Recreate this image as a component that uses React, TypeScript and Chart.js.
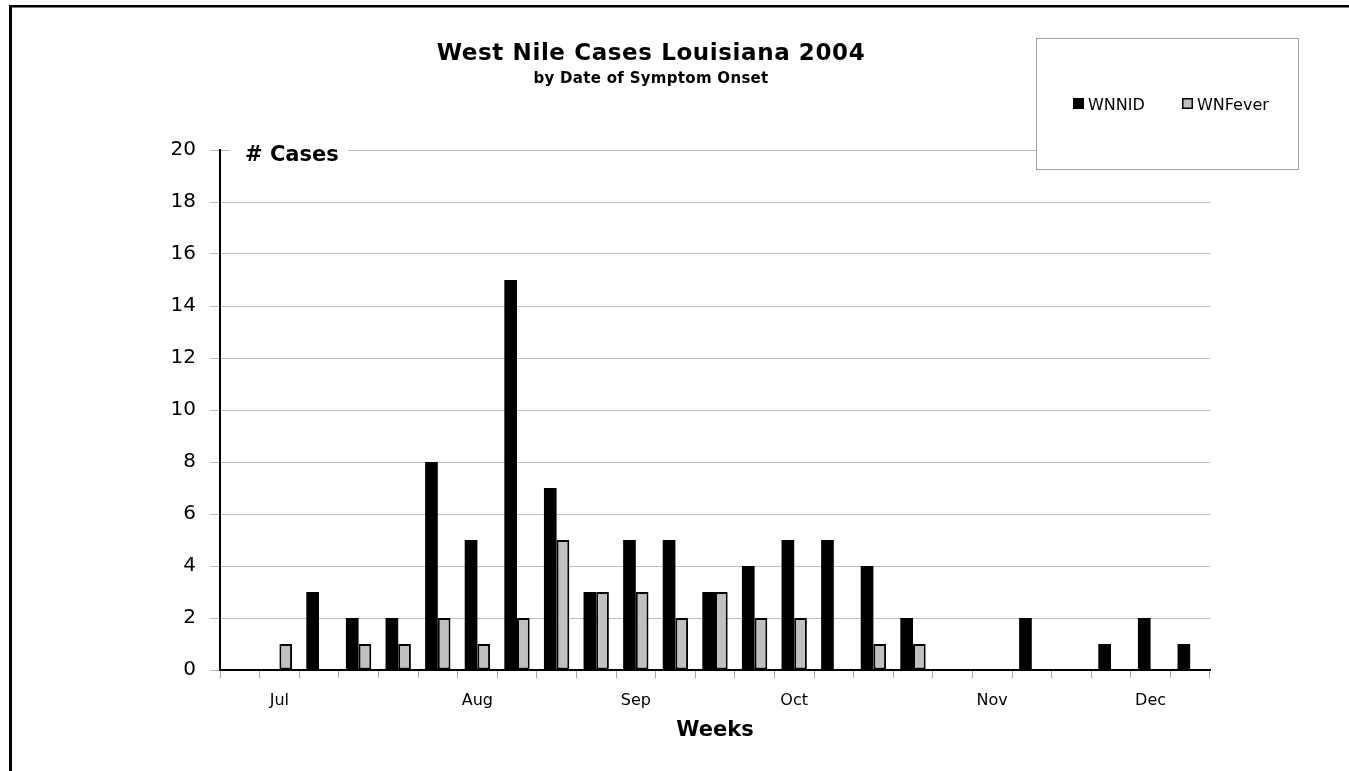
import React, { useEffect, useRef } from 'react';
import { Chart, registerables } from 'chart.js';

Chart.register(...registerables);

const weekLabels = ['', 'Jul', '', '', '', '', 'Aug', '', '', '', 'Sep', '', '', '', 'Oct', '', '', '', '', 'Nov', '', '', '', 'Dec', ''];
const wnnidCases = [0, 0, 3, 2, 2, 8, 5, 15, 7, 3, 5, 5, 3, 4, 5, 5, 4, 2, 0, 0, 2, 0, 1, 2, 1];
const wnfeverCases = [0, 1, 0, 1, 1, 2, 1, 2, 5, 3, 3, 2, 3, 2, 2, 0, 1, 1, 0, 0, 0, 0, 0, 0, 0];
const seriesNames = ['WNNID', 'WNFever'];
const titleText = 'West Nile Cases Louisiana 2004';
const subtitleText = 'by Date of Symptom Onset';
const yAxisLabel = '# Cases';
const xAxisLabel = 'Weeks';

const FONT = '"DejaVu Sans", "Liberation Sans", sans-serif';

const decorPlugin = {
  id: 'decor',
  afterDraw(chart: any) {
    const ctx = chart.ctx as any;
    const area = chart.chartArea;
    ctx.save();
    // outer frame (left + top edges)
    ctx.fillStyle = '#000';
    ctx.fillRect(9, 5, 3, 800);
    ctx.fillRect(9, 5, 1400, 2.5);

    // title
    ctx.fillStyle = '#000';
    ctx.textAlign = 'center';
    ctx.textBaseline = 'alphabetic';
    ctx.font = `bold 23px ${FONT}`;
    ctx.letterSpacing = '0.6px';
    ctx.fillText(titleText, 651, 60);
    ctx.font = `bold 15px ${FONT}`;
    ctx.letterSpacing = '0.3px';
    ctx.fillText(subtitleText, 651, 83);
    ctx.letterSpacing = '0px';

    // "# Cases" label with white backing
    ctx.font = `bold 21px ${FONT}`;
    const w = ctx.measureText(yAxisLabel).width;
    ctx.fillStyle = '#fff';
    ctx.fillRect(area.left + 10, area.top - 12, w + 24, 24);
    ctx.fillStyle = '#000';
    ctx.textAlign = 'left';
    ctx.fillText(yAxisLabel, area.left + 25, area.top + 11);

    // x axis title
    ctx.textAlign = 'center';
    ctx.font = `bold 21px ${FONT}`;
    ctx.fillText(xAxisLabel, (area.left + area.right) / 2, 736);

    // legend box
    const lx = 1036, ly = 38, lw = 262, lh = 131;
    ctx.fillStyle = '#fff';
    ctx.fillRect(lx, ly, lw, lh);
    ctx.strokeStyle = '#a0a0a0';
    ctx.lineWidth = 1;
    ctx.strokeRect(lx + 0.5, ly + 0.5, lw, lh);

    const items = chart.data.datasets;
    const xs = [1073, 1182];
    ctx.font = `16px ${FONT}`;
    ctx.textAlign = 'left';
    items.forEach((ds: any, i: number) => {
      const x = xs[i];
      ctx.fillStyle = ds.backgroundColor;
      ctx.fillRect(x, 98, 11, 11);
      ctx.strokeStyle = '#000';
      ctx.lineWidth = 1.5;
      ctx.strokeRect(x + 0.75, 98.75, 9.5, 9.5);
      ctx.fillStyle = '#000';
      ctx.fillText(ds.label, x + 15, 110);
    });
    ctx.restore();
  },
};

export default function App() {
  const ref = useRef<HTMLCanvasElement | null>(null);
  useEffect(() => {
    if (!ref.current) return;
    const chart = new Chart(ref.current, {
      type: 'bar',
      data: {
        labels: weekLabels,
        datasets: [
          {
            label: seriesNames[0],
            data: wnnidCases,
            backgroundColor: '#000000',
            borderColor: '#000000',
            borderWidth: 0,
            borderSkipped: false,
          },
          {
            label: seriesNames[1],
            data: wnfeverCases,
            backgroundColor: '#c0c0c0',
            borderColor: '#000000',
            borderWidth: 2,
            borderSkipped: false,
          },
        ],
      },
      options: {
        responsive: false,
        animation: false,
        layout: { padding: { left: 160, top: 150, right: 139, bottom: 0 } },
        datasets: { bar: { categoryPercentage: 0.64, barPercentage: 1.0 } },
        plugins: {
          legend: { display: false },
          title: { display: false },
          tooltip: { enabled: false },
        },
        scales: {
          x: {
            type: 'category',
            offset: true,
            grid: {
              offset: true,
              drawOnChartArea: false,
              color: '#a6a6a6',
              tickLength: 8,
            },
            border: { color: '#000', width: 2 },
            ticks: {
              autoSkip: false,
              maxRotation: 0,
              minRotation: 0,
              color: '#000',
              font: { family: FONT, size: 16 },
              padding: 13,
            },
            afterFit: (scale: any) => {
              scale.height = 101;
            },
          },
          y: {
            min: 0,
            max: 20,
            ticks: {
              stepSize: 2,
              color: '#000',
              font: { family: FONT, size: 20 },
              padding: 14,
            },
            grid: { color: '#bdbdbd', tickLength: 10, lineWidth: 1 },
            border: { color: '#000', width: 2 },
            afterFit: (scale: any) => {
              scale.width = 60;
            },
          },
        },
      },
      plugins: [decorPlugin],
    });
    return () => chart.destroy();
  }, []);
  return (
    <div style={{ position: 'fixed', left: 0, top: 0, width: 1349, height: 771, background: '#fff' }}>
      <canvas ref={ref} width={1349} height={771} />
    </div>
  );
}
